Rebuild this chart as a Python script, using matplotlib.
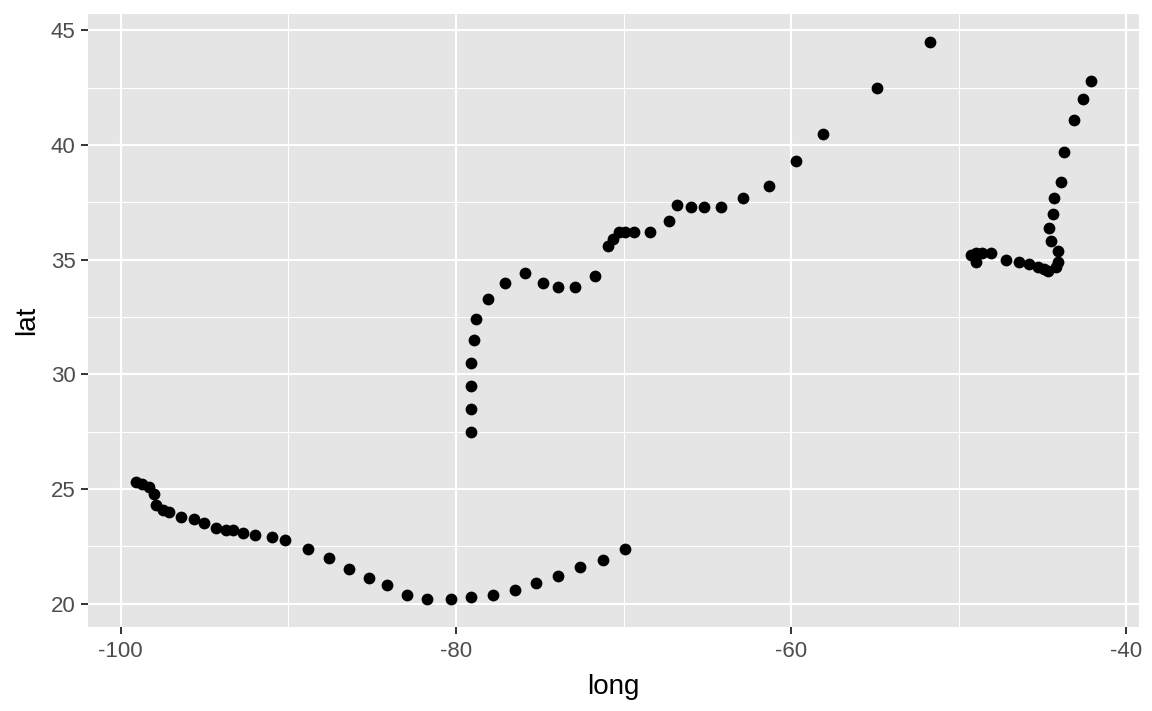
import matplotlib
matplotlib.use("Agg")
import matplotlib.pyplot as plt
from matplotlib.ticker import MultipleLocator, FuncFormatter

plt.rcParams["font.family"] = ["Liberation Sans", "DejaVu Sans"]

long_vals = [
    -99.1, -98.7, -98.3, -98.0, -97.9, -97.5, -97.1, -96.4, -95.6, -95.0,
    -94.3, -93.7, -93.3, -92.7, -92.0, -91.0, -90.2, -88.8, -87.6, -86.4,
    -85.2, -84.1, -82.9, -81.7, -80.3, -79.1, -77.8, -76.5, -75.2, -73.9,
    -72.6, -71.2, -69.9,
    -79.1, -79.1, -79.1, -79.1, -78.9, -78.8, -78.1, -77.1, -75.9, -74.8,
    -73.9, -72.9, -71.7, -70.9, -70.6, -70.3, -69.9, -69.4, -68.4, -67.3,
    -66.8, -66.0, -65.2, -64.2, -62.9, -61.3, -59.7, -58.1, -54.9, -51.7,
    -49.3, -49.0, -48.6, -48.1, -49.0, -47.2, -46.4, -45.8, -45.3, -44.9,
    -44.7, -44.2, -44.1, -44.1, -44.5, -44.6, -44.4, -44.3, -43.9, -43.7,
    -43.1, -42.6, -42.1,
]
lat_vals = [
    25.3, 25.2, 25.1, 24.8, 24.3, 24.1, 24.0, 23.8, 23.7, 23.5,
    23.3, 23.2, 23.2, 23.1, 23.0, 22.9, 22.8, 22.4, 22.0, 21.5,
    21.1, 20.8, 20.4, 20.2, 20.2, 20.3, 20.4, 20.6, 20.9, 21.2,
    21.6, 21.9, 22.4,
    27.5, 28.5, 29.5, 30.5, 31.5, 32.4, 33.3, 34.0, 34.4, 34.0,
    33.8, 33.8, 34.3, 35.6, 35.9, 36.2, 36.2, 36.2, 36.2, 36.7,
    37.4, 37.3, 37.3, 37.3, 37.7, 38.2, 39.3, 40.5, 42.5, 44.5,
    35.2, 35.3, 35.3, 35.3, 34.9, 35.0, 34.9, 34.8, 34.7, 34.6,
    34.5, 34.7, 34.9, 35.4, 35.8, 36.4, 37.0, 37.7, 38.4, 39.7,
    41.1, 42.0, 42.8,
]

fig = plt.figure(figsize=(11.52, 7.11), dpi=100)
ax = fig.add_axes([88/1152, 1 - 627/711, (1139-88)/1152, (627-14)/711])
ax.set_facecolor("#E5E5E5")
for s in ax.spines.values():
    s.set_visible(False)

ax.scatter(long_vals, lat_vals, s=72, color="black", linewidths=0, zorder=3)

xr = max(long_vals) - min(long_vals)
yr = max(lat_vals) - min(lat_vals)
ax.set_xlim(min(long_vals) - 0.05 * xr, max(long_vals) + 0.05 * xr)
ax.set_ylim(min(lat_vals) - 0.05 * yr, max(lat_vals) + 0.05 * yr)

ax.xaxis.set_major_locator(MultipleLocator(20))
ax.xaxis.set_minor_locator(MultipleLocator(10))
ax.yaxis.set_major_locator(MultipleLocator(5))
ax.yaxis.set_minor_locator(MultipleLocator(2.5))
ax.grid(which="major", color="white", linewidth=1.5, zorder=0)
ax.grid(which="minor", color="white", linewidth=0.75, zorder=0)
ax.set_axisbelow(True)

ax.tick_params(which="major", length=5, width=1.4, color="#333333",
               labelcolor="#4D4D4D", labelsize=16)
ax.tick_params(axis="x", which="major", pad=5)
ax.tick_params(axis="y", which="major", pad=4)
ax.tick_params(which="minor", length=0)
fmt = FuncFormatter(lambda v, p: f"{int(round(v))}")
ax.xaxis.set_major_formatter(fmt)
ax.yaxis.set_major_formatter(fmt)

ax.set_xlabel("long", fontsize=20, color="black", labelpad=9)
ax.set_ylabel("lat", fontsize=20, color="black", labelpad=8)

fig.savefig("out.png", dpi=100, facecolor="white")
